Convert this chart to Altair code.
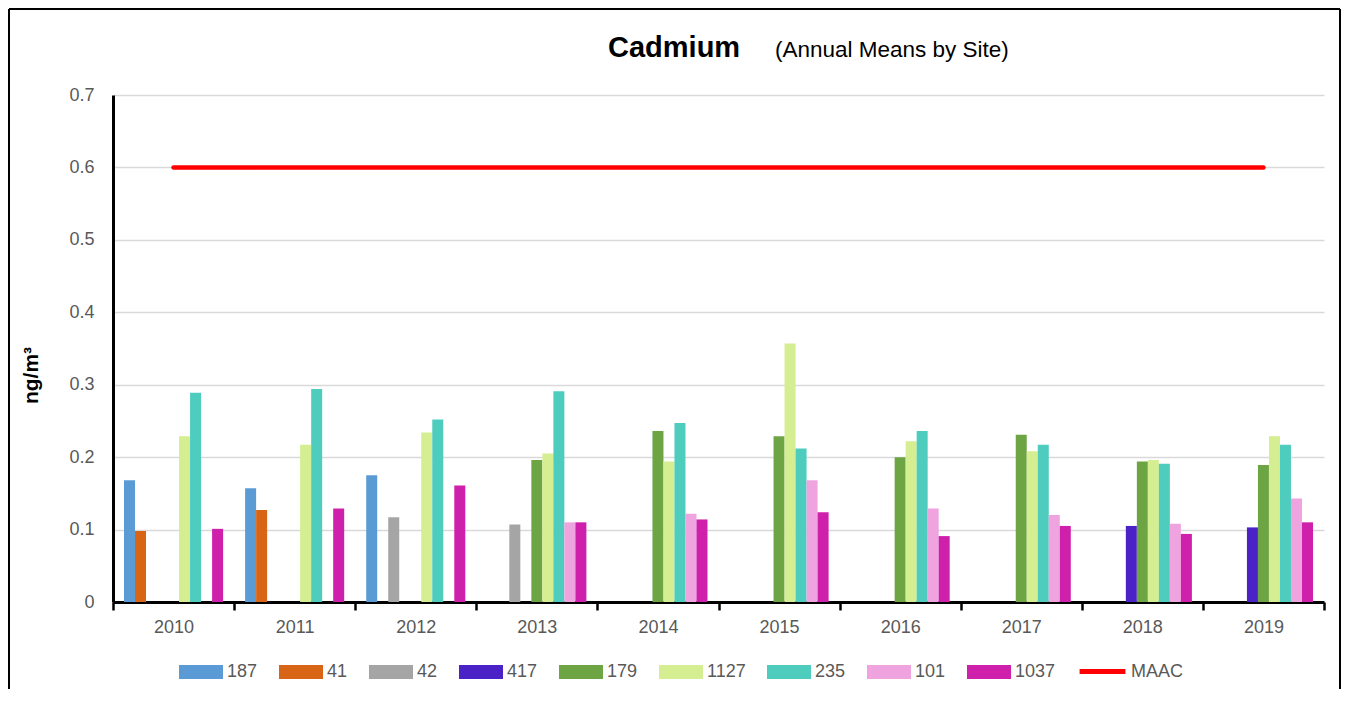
import altair as alt
import pandas as pd

years = ["2010", "2011", "2012", "2013", "2014", "2015", "2016", "2017", "2018", "2019"]
sites = ["187", "41", "42", "417", "179", "1127", "235", "101", "1037"]
colors = ["#5B9BD5", "#D86415", "#A5A5A5", "#4A22C6", "#6DA545", "#D4EE91", "#4ECDBE", "#EFA4E0", "#CF20AB"]

s187 = [0.168, 0.157, 0.175, None, None, None, None, None, None, None]
s41 = [0.098, 0.127, None, None, None, None, None, None, None, None]
s42 = [None, None, 0.117, 0.107, None, None, None, None, None, None]
s417 = [None, None, None, None, None, None, None, None, 0.105, 0.103]
s179 = [None, None, None, 0.196, 0.236, 0.229, 0.200, 0.231, 0.194, 0.189]
s1127 = [0.229, 0.217, 0.234, 0.205, 0.194, 0.357, 0.222, 0.208, 0.196, 0.229]
s235 = [0.289, 0.294, 0.252, 0.291, 0.247, 0.212, 0.236, 0.217, 0.191, 0.217]
s101 = [None, None, None, 0.110, 0.122, 0.168, 0.129, 0.120, 0.108, 0.143]
s1037 = [0.101, 0.129, 0.161, 0.110, 0.114, 0.124, 0.091, 0.105, 0.094, 0.110]
maac = [0.6, 0.6, 0.6, 0.6, 0.6, 0.6, 0.6, 0.6, 0.6, 0.6]

series = {"187": s187, "41": s41, "42": s42, "417": s417, "179": s179,
          "1127": s1127, "235": s235, "101": s101, "1037": s1037}

rows = []
for site, vals in series.items():
    for y, v in zip(years, vals):
        if v is not None:
            rows.append({"year": y, "site": site, "value": v})
bars_df = pd.DataFrame(rows)
line_df = pd.DataFrame({"year": years, "limit": ["MAAC"] * len(years), "value": maac})

FONT = "Liberation Sans"
GRAY = "#595959"

rect_path = "M-1,-0.32L1,-0.32L1,0.32L-1,0.32Z"

x_enc = alt.X(
    "year:N", sort=years,
    scale=alt.Scale(paddingInner=0, paddingOuter=0),
    axis=alt.Axis(
        title=None, labelAngle=0, labelFont=FONT, labelFontSize=18, labelColor=GRAY,
        labelPadding=8, domainColor="black", domainWidth=3, tickColor="black",
        tickWidth=2.5, tickSize=8, tickBand="extent", grid=False,
    ),
)
y_enc = alt.Y(
    "value:Q",
    scale=alt.Scale(domain=[0, 0.7], nice=False),
    axis=alt.Axis(
        title="ng/m³", titleFont=FONT, titleFontSize=21, titleFontWeight="bold", titleColor="black",
        titleX=-82, titleY=280, titleAlign="center", titleBaseline="middle",
        values=[0, 0.1, 0.2, 0.3, 0.4, 0.5, 0.6, 0.7], format="~g",
        labelFont=FONT, labelFontSize=18, labelColor=GRAY, labelPadding=19,
        domainColor="black", domainWidth=3, ticks=False,
        grid=True, gridColor="#D9D9D9", gridWidth=1.5,
    ),
)

bars = alt.Chart(bars_df).mark_bar().encode(
    x=x_enc, y=y_enc,
    xOffset=alt.XOffset("site:N", sort=sites,
                        scale=alt.Scale(domain=sites, paddingInner=0, paddingOuter=1)),
    color=alt.Color(
        "site:N",
        scale=alt.Scale(domain=sites, range=colors),
        legend=alt.Legend(
            orient="none", legendX=66, legendY=555, direction="horizontal", title=None,
            symbolType=rect_path, symbolSize=1936, symbolStrokeWidth=0, symbolOpacity=1,
            labelFont=FONT, labelFontSize=18, labelColor=GRAY, labelOffset=4,
            columnPadding=21,
        ),
    ),
)

line = alt.Chart(line_df).mark_line(strokeWidth=4.5, strokeCap="round").encode(
    x=alt.X("year:N", sort=years), y=alt.Y("value:Q"),
    stroke=alt.Stroke(
        "limit:N",
        scale=alt.Scale(domain=["MAAC"], range=["#FF0000"]),
        legend=alt.Legend(
            orient="none", legendX=964, legendY=551, direction="horizontal", title=None,
            symbolType="stroke", symbolSize=2100, symbolStrokeWidth=5,
            labelFont=FONT, labelFontSize=18, labelColor=GRAY, labelOffset=3,
        ),
    ),
)

title1 = alt.Chart(pd.DataFrame({"t": ["Cadmium"]})).mark_text(
    font=FONT, fontSize=29, fontWeight="bold", align="left", baseline="alphabetic", color="black"
).encode(text="t:N", x=alt.value(495), y=alt.value(-38))
title2 = alt.Chart(pd.DataFrame({"t": ["(Annual Means by Site)"]})).mark_text(
    font=FONT, fontSize=22.5, align="left", baseline="alphabetic", color="black"
).encode(text="t:N", x=alt.value(662), y=alt.value(-38))

frame_df = pd.DataFrame({"k": [0]})
left_rule = alt.Chart(frame_df).mark_rule(color="black", strokeWidth=2).encode(
    x=alt.value(-104), y=alt.value(-86), y2=alt.value(594))
top_rule = alt.Chart(frame_df).mark_rule(color="black", strokeWidth=2).encode(
    x=alt.value(-104), x2=alt.value(1227), y=alt.value(-86))
right_rule = alt.Chart(frame_df).mark_rule(color="black", strokeWidth=2).encode(
    x=alt.value(1227), y=alt.value(-86), y2=alt.value(594))

chart = alt.layer(bars, line, title1, title2, left_rule, top_rule, right_rule).properties(
    width=1211, height=507, padding=0,
).configure_view(stroke=None)

chart.save("out.html", embed_options={"renderer": "svg", "actions": False})
